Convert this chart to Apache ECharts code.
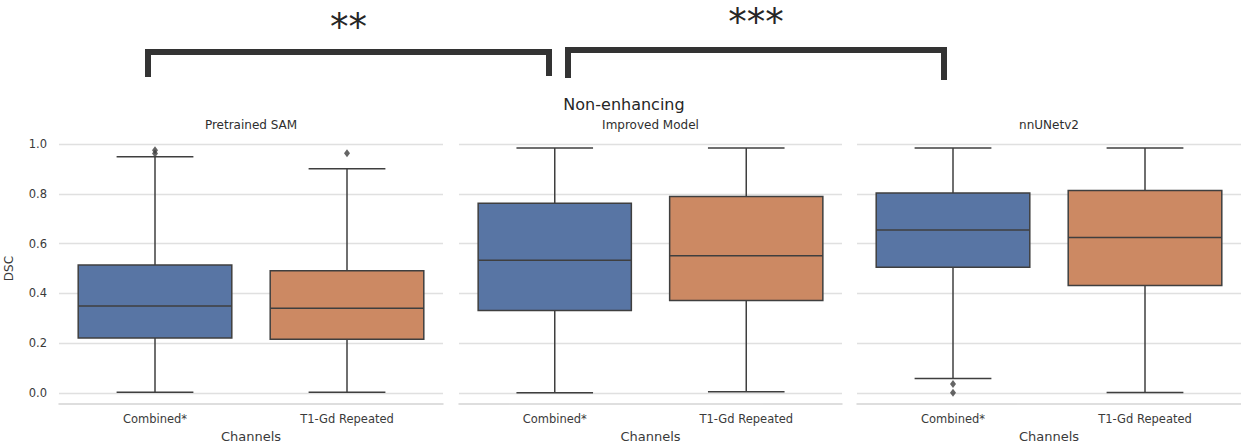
<!DOCTYPE html>
<html>
<head>
<meta charset="utf-8">
<script src="https://cdn.jsdelivr.net/npm/echarts@6/dist/echarts.min.js"></script>
<style>
  html, body { margin: 0; padding: 0; background: #ffffff; }
  #chart { width: 1241px; height: 448px; }
</style>
</head>
<body>
<div id="chart"></div>
<script>
// ---- data ----
const channels = ['Combined*', 'T1-Gd Repeated'];
const models = ['Pretrained SAM', 'Improved Model', 'nnUNetv2'];
const yTicks = [0.0, 0.2, 0.4, 0.6, 0.8, 1.0];

// Box statistics per channel: [lower whisker, Q1, median, Q3, upper whisker]
const samStats = [
  [0.003, 0.221, 0.349, 0.514, 0.949],
  [0.003, 0.216, 0.340, 0.491, 0.901]
];
const improvedStats = [
  [0.001, 0.331, 0.533, 0.762, 0.984],
  [0.005, 0.371, 0.551, 0.789, 0.984]
];
const nnunetStats = [
  [0.058, 0.505, 0.655, 0.803, 0.984],
  [0.002, 0.432, 0.625, 0.813, 0.984]
];

// Outlying points per channel
const samOutliers = [[0.962, 0.975], [0.963]];
const improvedOutliers = [[], []];
const nnunetOutliers = [[0.036, 0.001], []];

// Significance markers between model panels
const sigLabels = ['**', '***'];

// ---- styling ----
const boxColors = ['#5875a4', '#cc8963'];
const lineColor = '#3f3f3f';
const gridColor = '#e0e0e0';
const fontFamily = 'DejaVu Sans';

const allStats = [samStats, improvedStats, nnunetStats];
const allOutliers = [samOutliers, improvedOutliers, nnunetOutliers];

const grids = [
  { left: 59, width: 384, top: 144, bottom: 55, outerBoundsMode: 'none', containLabel: false },
  { left: 459, width: 383, top: 144, bottom: 55, outerBoundsMode: 'none', containLabel: false },
  { left: 857, width: 384, top: 144, bottom: 55, outerBoundsMode: 'none', containLabel: false }
];

function renderBox(params, api) {
  const ci = api.value(0);
  const lo = api.value(1), q1 = api.value(2), med = api.value(3),
        q3 = api.value(4), hi = api.value(5);
  const bandW = api.size([1, 0])[0];
  const w = bandW * 0.8;
  const cap = w / 2;
  const cx = api.coord([ci, 0])[0];
  const yLo = api.coord([ci, lo])[1];
  const yQ1 = api.coord([ci, q1])[1];
  const yMed = api.coord([ci, med])[1];
  const yQ3 = api.coord([ci, q3])[1];
  const yHi = api.coord([ci, hi])[1];
  const ls = { stroke: lineColor, lineWidth: 1.5 };
  return {
    type: 'group',
    children: [
      { type: 'line', shape: { x1: cx, y1: yQ3, x2: cx, y2: yHi }, style: ls },
      { type: 'line', shape: { x1: cx, y1: yQ1, x2: cx, y2: yLo }, style: ls },
      { type: 'line', shape: { x1: cx - cap / 2, y1: yHi, x2: cx + cap / 2, y2: yHi }, style: ls },
      { type: 'line', shape: { x1: cx - cap / 2, y1: yLo, x2: cx + cap / 2, y2: yLo }, style: ls },
      { type: 'rect', shape: { x: cx - w / 2, y: yQ3, width: w, height: yQ1 - yQ3 },
        style: { fill: boxColors[ci], stroke: lineColor, lineWidth: 1.5 } },
      { type: 'line', shape: { x1: cx - w / 2, y1: yMed, x2: cx + w / 2, y2: yMed }, style: ls }
    ]
  };
}

const xAxes = [], yAxes = [], series = [];
models.forEach(function (m, i) {
  xAxes.push({
    type: 'category',
    gridIndex: i,
    data: channels,
    offset: 11,
    axisLine: { show: true, onZero: false, lineStyle: { color: '#d4d4d4', width: 1.5 } },
    axisTick: { show: false },
    axisLabel: { color: '#3a3a3a', fontSize: 11.5, fontFamily: fontFamily, margin: 9 },
    name: 'Channels',
    nameLocation: 'middle',
    nameGap: 25,
    nameTextStyle: { color: '#3a3a3a', fontSize: 13, fontFamily: fontFamily },
    splitLine: { show: false }
  });
  yAxes.push({
    type: 'value',
    gridIndex: i,
    min: 0,
    max: 1,
    interval: 0.2,
    axisLine: { show: false },
    axisTick: { show: false },
    axisLabel: {
      show: i === 0,
      color: '#3a3a3a',
      fontSize: 11.5,
      fontFamily: fontFamily,
      margin: 12,
      formatter: function (v) { return v.toFixed(1); }
    },
    splitLine: { show: true, lineStyle: { color: gridColor, width: 1.3 } },
    name: i === 0 ? 'DSC' : '',
    nameLocation: 'middle',
    nameGap: 44,
    nameTextStyle: { color: '#3a3a3a', fontSize: 12, fontFamily: fontFamily }
  });
  series.push({
    type: 'custom',
    xAxisIndex: i,
    yAxisIndex: i,
    clip: false,
    renderItem: renderBox,
    encode: { x: 0, y: [1, 2, 3, 4, 5] },
    data: allStats[i].map(function (s, ci) { return [ci].concat(s); }),
    z: 2
  });
  const pts = [];
  allOutliers[i].forEach(function (vals, ci) {
    vals.forEach(function (v) { pts.push([ci, v]); });
  });
  series.push({
    type: 'scatter',
    xAxisIndex: i,
    yAxisIndex: i,
    symbol: 'diamond',
    symbolSize: [6, 8],
    itemStyle: { color: lineColor },
    data: pts,
    z: 3
  });
});

const chart = echarts.init(document.getElementById('chart'), null, { renderer: 'svg' });

const panelTitles = models.map(function (m, i) {
  return {
    type: 'text',
    x: grids[i].left + grids[i].width / 2,
    y: 125,
    style: {
      text: m, fill: '#2e2e2e', font: '12px "DejaVu Sans"',
      textAlign: 'center', textVerticalAlign: 'middle'
    }
  };
});

// Significance brackets spanning the Combined* boxes of neighbouring panels
const brackets = [
  { x1: 148, x2: 549, top: 52, legL: 77, legR: 76, labelY: 27 },
  { x1: 568, x2: 944, top: 50, legL: 78, legR: 80, labelY: 22 }
];
const bracketGraphics = [];
brackets.forEach(function (b, k) {
  bracketGraphics.push({
    type: 'polyline',
    shape: { points: [[b.x1, b.legL], [b.x1, b.top], [b.x2, b.top], [b.x2, b.legR]] },
    style: { stroke: '#333333', lineWidth: 6, fill: null, lineJoin: 'miter' }
  });
  bracketGraphics.push({
    type: 'text',
    x: (b.x1 + b.x2) / 2,
    y: b.labelY,
    style: {
      text: sigLabels[k], fill: '#262626', font: '37px "DejaVu Sans"',
      textAlign: 'center', textVerticalAlign: 'middle'
    }
  });
});

chart.setOption({
  backgroundColor: '#ffffff',
  animation: false,
  textStyle: { fontFamily: fontFamily },
  grid: grids,
  xAxis: xAxes,
  yAxis: yAxes,
  series: series,
  graphic: [
    {
      type: 'text', x: 624, y: 104,
      style: {
        text: 'Non-enhancing', fill: '#262626', font: '16px "DejaVu Sans"',
        textAlign: 'center', textVerticalAlign: 'middle'
      }
    }
  ].concat(panelTitles, bracketGraphics)
});
</script>
</body>
</html>
